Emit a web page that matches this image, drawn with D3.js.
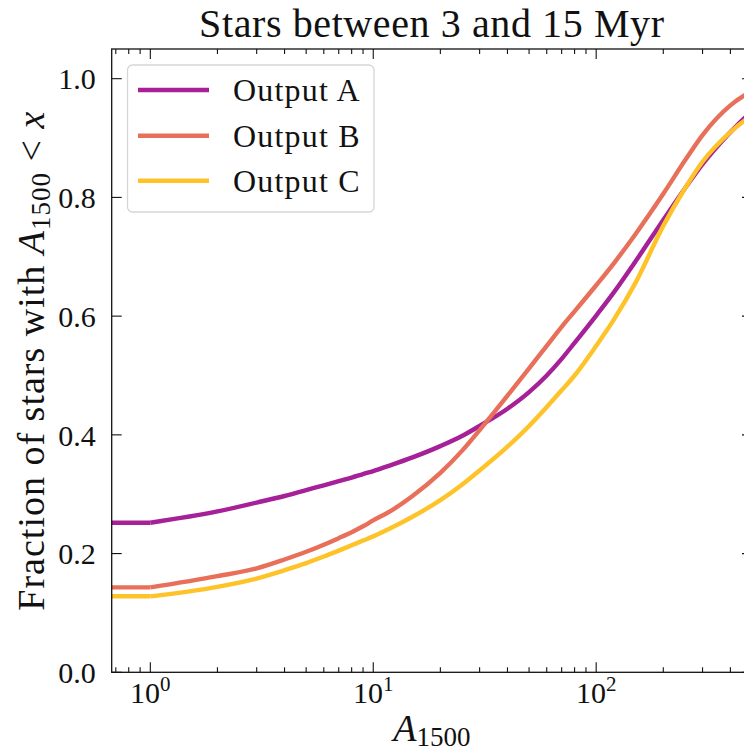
<!DOCTYPE html>
<html>
<head>
<meta charset="utf-8">
<script src="https://cdn.jsdelivr.net/npm/d3@7"></script>
<style>
  html, body { margin: 0; padding: 0; background: #fff; }
  svg { display: block; }
  text { font-family: "Liberation Serif", "DejaVu Serif", serif; fill: #111; }
</style>
</head>
<body>
<svg id="chart" width="744" height="751"></svg>
<script>
// ---- data ----
const aValues = [1, 2, 3, 4, 5, 6, 7, 8, 9, 10, 12, 15, 20, 25, 30, 40, 50, 60, 70, 80, 100, 120, 150, 200, 250, 300, 400, 500, 600];
const outputA = [0.252, 0.271, 0.286, 0.297, 0.307, 0.315, 0.322, 0.328, 0.334, 0.339, 0.349, 0.362, 0.381, 0.398, 0.415, 0.444, 0.472, 0.500, 0.528, 0.555, 0.601, 0.640, 0.692, 0.762, 0.815, 0.856, 0.910, 0.945, 0.965];
const outputB = [0.143, 0.162, 0.175, 0.190, 0.203, 0.215, 0.226, 0.236, 0.246, 0.256, 0.272, 0.297, 0.336, 0.373, 0.408, 0.466, 0.512, 0.550, 0.582, 0.608, 0.652, 0.689, 0.738, 0.806, 0.862, 0.905, 0.955, 0.979, 0.991];
const outputC = [0.128, 0.144, 0.158, 0.172, 0.184, 0.195, 0.205, 0.214, 0.222, 0.229, 0.243, 0.262, 0.290, 0.316, 0.340, 0.380, 0.415, 0.447, 0.475, 0.500, 0.550, 0.594, 0.656, 0.752, 0.815, 0.860, 0.910, 0.938, 0.955];
// value below the first sample (flat start, same as value at 1)
const aStart = 0.3;
const seriesNames = ["Output A", "Output B", "Output C"];
const seriesColors = ["#a62098", "#e8705b", "#fdc328"];
const yTicks = [0.0, 0.2, 0.4, 0.6, 0.8, 1.0];
const xMajorTicks = [1, 10, 100];
const xTickExps = ["0", "1", "2"];
const xDomain = [0.671, 500];
const yDomain = [0, 1.05];

// ---- layout ----
const svg = d3.select("#chart");
const L = 111.7, R = 752, T = 49, B = 672.3;
const x = d3.scaleLog().domain(xDomain).range([L, R]);
const y = d3.scaleLinear().domain(yDomain).range([B, T]);

svg.append("defs").append("clipPath").attr("id", "clip")
  .append("rect").attr("x", L).attr("y", T).attr("width", R - L).attr("height", B - T);

// ---- lines ----
const allSeries = [outputA, outputB, outputC];
const flatLine = d3.line().x(d => x(d[0])).y(d => y(d[1]));
const smoothLine = d3.line().x(d => x(d[0])).y(d => y(d[1])).curve(d3.curveMonotoneX);
const gLines = svg.append("g").attr("clip-path", "url(#clip)");
allSeries.forEach((vals, i) => {
  const pts = aValues.map((a, j) => [a, vals[j]]);
  const g = gLines.append("g");
  g.append("path").datum([[aStart, vals[0]], pts[0]])
    .attr("d", flatLine)
    .attr("fill", "none").attr("stroke", seriesColors[i]).attr("stroke-width", 4.4);
  g.append("path").datum(pts)
    .attr("d", smoothLine)
    .attr("fill", "none").attr("stroke", seriesColors[i]).attr("stroke-width", 4.4)
    .attr("stroke-linejoin", "round");
});

// ---- frame ----
svg.append("rect").attr("x", L).attr("y", T).attr("width", R - L).attr("height", B - T)
  .attr("fill", "none").attr("stroke", "#111").attr("stroke-width", 1.3);

// ---- ticks ----
const gt = svg.append("g").attr("stroke", "#111").attr("stroke-width", 1.1);
const majorLen = 10, minorLen = 5;
const minor = [];
for (let e = -1; e <= 2; e++) for (let m = 2; m <= 9; m++) {
  const v = m * Math.pow(10, e);
  if (v > xDomain[0] && v < xDomain[1]) minor.push(v);
}
minor.forEach(v => {
  gt.append("line").attr("x1", x(v)).attr("x2", x(v)).attr("y1", B).attr("y2", B - minorLen);
  gt.append("line").attr("x1", x(v)).attr("x2", x(v)).attr("y1", T).attr("y2", T + minorLen);
});
xMajorTicks.forEach(v => {
  gt.append("line").attr("x1", x(v)).attr("x2", x(v)).attr("y1", B).attr("y2", B - majorLen);
  gt.append("line").attr("x1", x(v)).attr("x2", x(v)).attr("y1", T).attr("y2", T + majorLen);
});
yTicks.forEach(v => {
  gt.append("line").attr("x1", L).attr("x2", L + majorLen).attr("y1", y(v)).attr("y2", y(v));
  gt.append("line").attr("x1", R).attr("x2", R - majorLen).attr("y1", y(v)).attr("y2", y(v));
});

// ---- tick labels ----
yTicks.forEach(v => {
  svg.append("text").attr("x", L - 16).attr("y", y(v)).attr("dy", "0.36em")
    .attr("text-anchor", "end").attr("font-size", 30).text(d3.format(".1f")(v));
});
xMajorTicks.forEach((v, i) => {
  const t = svg.append("text").attr("x", x(v)).attr("y", 703)
    .attr("text-anchor", "middle").attr("font-size", 30);
  t.append("tspan").text("10");
  t.append("tspan").attr("font-size", 21).attr("dy", -12).text(xTickExps[i]);
});

// ---- title & axis labels ----
svg.append("text").attr("x", (L + R) / 2).attr("y", 37).attr("text-anchor", "middle")
  .attr("font-size", 40).attr("letter-spacing", 0.6).text("Stars between 3 and 15 Myr");

const xl = svg.append("text").attr("x", (L + R) / 2).attr("y", 741).attr("text-anchor", "middle")
  .attr("font-size", 38);
xl.append("tspan").attr("font-style", "italic").text("A");
xl.append("tspan").attr("font-size", 27).attr("dy", 5).text("1500");

const yl = svg.append("text")
  .attr("transform", `translate(44,${(T + B) / 2}) rotate(-90)`)
  .attr("text-anchor", "middle").attr("font-size", 38).attr("letter-spacing", 1);
yl.append("tspan").text("Fraction of stars with ");
yl.append("tspan").attr("font-style", "italic").text("A");
yl.append("tspan").attr("font-size", 27).attr("dy", 6).text("1500");
yl.append("tspan").attr("dy", -6).text(" < ");
yl.append("tspan").attr("font-style", "italic").text("x");

// ---- legend ----
const lg = svg.append("g");
lg.append("rect").attr("x", 127.5).attr("y", 65).attr("width", 246.5).attr("height", 147)
  .attr("rx", 5).attr("fill", "#fff").attr("fill-opacity", 0.85)
  .attr("stroke", "#d6d6d6").attr("stroke-width", 1.3);
const legY = [90, 135.7, 180.7];
seriesNames.forEach((n, i) => {
  lg.append("line").attr("x1", 138).attr("x2", 209).attr("y1", legY[i]).attr("y2", legY[i])
    .attr("stroke", seriesColors[i]).attr("stroke-width", 4.4);
  lg.append("text").attr("x", 233).attr("y", legY[i]).attr("dy", "0.35em")
    .attr("font-size", 32).attr("letter-spacing", 1.2).text(n);
});
</script>
</body>
</html>
